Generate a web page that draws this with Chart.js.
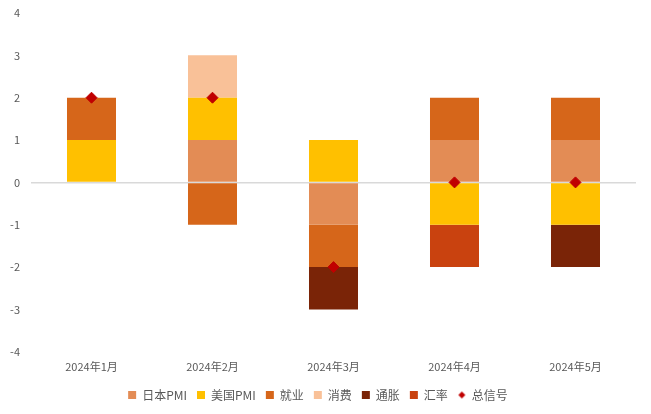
<!DOCTYPE html>
<html>
<head>
<meta charset="utf-8">
<script src="https://cdn.jsdelivr.net/npm/chart.js@4/dist/chart.umd.min.js"></script>
<style>
  html, body { margin: 0; padding: 0; background: #fff; }
  #wrap { width: 651px; height: 414px; }
</style>
</head>
<body>
<div id="wrap"><canvas id="c" width="651" height="414"></canvas></div>
<script>
// Monthly signal contributions by factor
const months = ['2024年1月', '2024年2月', '2024年3月', '2024年4月', '2024年5月'];
const japanPMI = [0, 1, -1, 1, 1];
const usPMI = [1, 1, 1, -1, -1];
const employment = [1, -1, -1, 1, 1];
const consumption = [0, 1, 0, 0, 0];
const inflation = [0, 0, -1, 0, -1];
const fxRate = [0, 0, 0, -1, 0];
const totalSignal = [2, 2, -2, 0, 0];
const yTicks = [-4, -3, -2, -1, 0, 1, 2, 3, 4];

const FONT = '"Noto Sans CJK SC", "Microsoft YaHei", sans-serif';
const TEXT = '#595959';
const SIGNAL = '#C00000';

// small diamond used as the legend marker of the signal series
const legendDiamond = document.createElement('canvas');
legendDiamond.width = 9; legendDiamond.height = 9;
(function () {
  const g = legendDiamond.getContext('2d');
  g.fillStyle = SIGNAL;
  g.beginPath();
  g.moveTo(4.5, 1); g.lineTo(8, 4.5); g.lineTo(4.5, 8); g.lineTo(1, 4.5);
  g.closePath(); g.fill();
})();

function barSet(label, data, color) {
  return {
    type: 'bar', label, data,
    backgroundColor: color,
    borderWidth: 0,
    barPercentage: 0.405,
    categoryPercentage: 1,
    order: 1,
    pointStyle: 'rect'
  };
}

const datasets = [
  barSet('日本PMI', japanPMI, '#E38C55'),
  barSet('美国PMI', usPMI, '#FFC000'),
  barSet('就业', employment, '#D6661A'),
  barSet('消费', consumption, '#F9C198'),
  barSet('通胀', inflation, '#7A2407'),
  barSet('汇率', fxRate, '#C9420F'),
  {
    type: 'line', label: '总信号', data: totalSignal,
    showLine: false,
    stack: 'signal',
    pointStyle: 'rectRot',
    pointRadius: 5.5,
    pointBackgroundColor: SIGNAL,
    pointBorderColor: SIGNAL,
    borderColor: SIGNAL,
    backgroundColor: SIGNAL,
    order: 0
  }
];

new Chart(document.getElementById('c'), {
  data: { labels: months, datasets },
  options: {
    responsive: false,
    animation: false,
    layout: { padding: { left: 0, right: 15, top: 0, bottom: 3 } },
    plugins: {
      tooltip: { enabled: false },
      legend: {
        position: 'bottom',
        labels: {
          usePointStyle: true,
          boxWidth: 8,
          boxHeight: 8,
          padding: 10,
          color: TEXT,
          font: { family: FONT, size: 12 },
          sort: (a, b) => a.datasetIndex - b.datasetIndex,
          generateLabels(chart) {
            const items = Chart.defaults.plugins.legend.labels.generateLabels(chart);
            items.forEach(it => {
              it.lineWidth = 0;
              if (it.text === '总信号') it.pointStyle = legendDiamond;
            });
            return items;
          }
        }
      }
    },
    scales: {
      x: {
        stacked: true,
        afterFit(s) { s.height += 6; },
        grid: { display: false },
        border: { display: false },
        ticks: { color: TEXT, font: { family: FONT, size: 11 }, padding: 0 }
      },
      y: {
        stacked: true,
        min: -4, max: 4,
        afterFit(s) { s.width = 31; s.paddingTop = 13; },
        afterBuildTicks(s) { s.ticks = yTicks.map(v => ({ value: v })); },
        border: { display: false },
        grid: {
          drawTicks: false,
          color: c => (c.tick && c.tick.value === 0 ? '#D9D9D9' : 'rgba(0,0,0,0)'),
          lineWidth: 1.5
        },
        ticks: { color: TEXT, font: { family: FONT, size: 11 }, padding: 11 }
      }
    }
  }
});
</script>
</body>
</html>
